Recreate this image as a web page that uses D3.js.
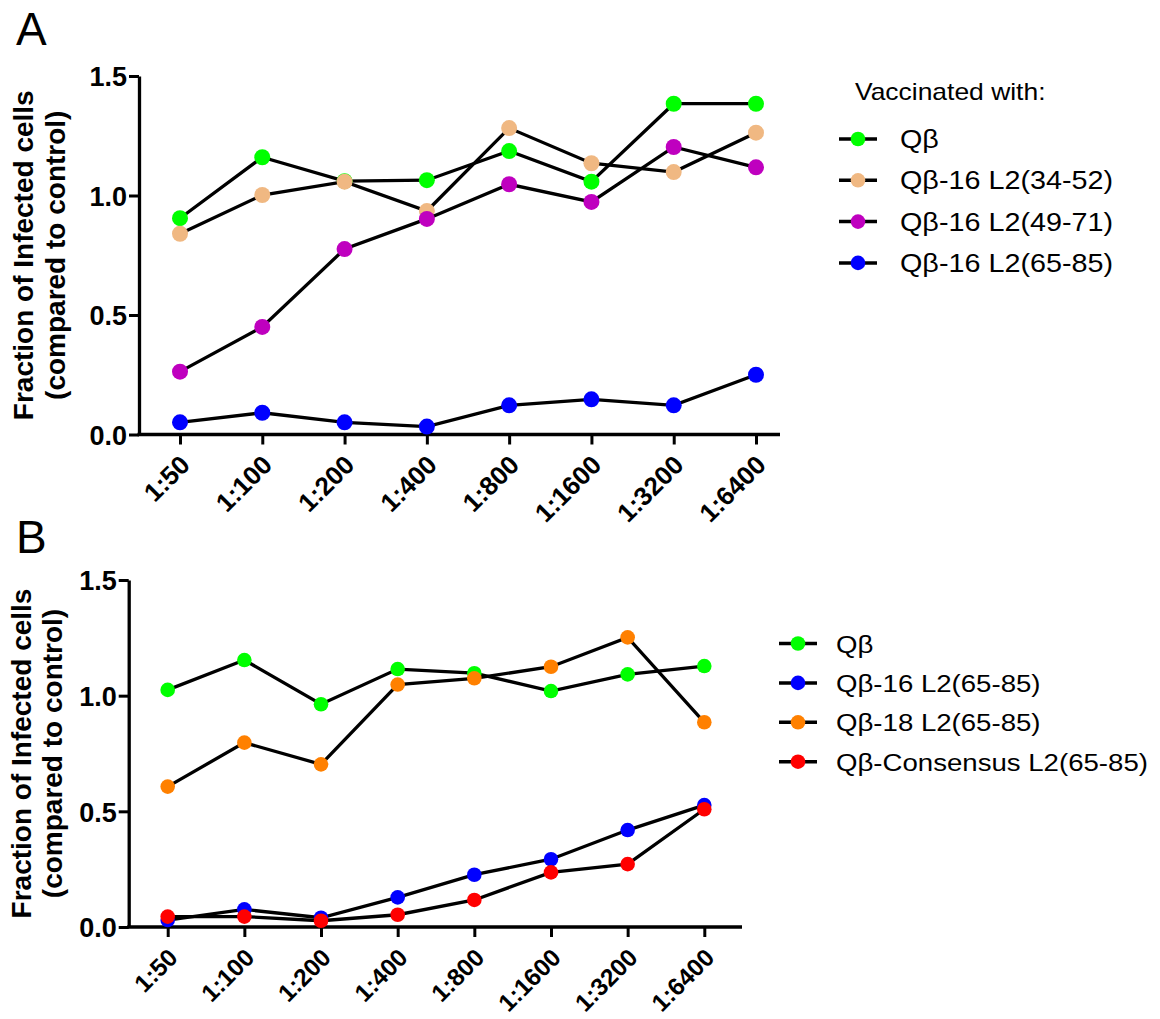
<!DOCTYPE html>
<html>
<head>
<meta charset="utf-8">
<script src="https://cdn.jsdelivr.net/npm/d3@7"></script>
<style>
	body { margin: 0; background: #fff; }
	svg text { font-family: "Liberation Sans", Arial, sans-serif; fill: #000; }
</style>
</head>
<body>
<svg id="chart" width="1160" height="1019"></svg>
<script>
// dilutions on the x axis, shared by both panels
var dilutions = ['1:50', '1:100', '1:200', '1:400', '1:800', '1:1600', '1:3200', '1:6400'];
var yTicks = [0, 0.5, 1.0, 1.5];
var yTitle = ['Fraction of Infected cells', '(compared to control)'];

// panel A
var namesA = ['Q\u03b2', 'Q\u03b2-16 L2(34-52)', 'Q\u03b2-16 L2(49-71)', 'Q\u03b2-16 L2(65-85)'];
var colorsA = ['#00ff00', '#f0b882', '#bf00bf', '#0000ff'];
var qbA      = [0.905, 1.160, 1.060, 1.064, 1.186, 1.058, 1.384, 1.384];
var l2_34_52 = [0.840, 1.002, 1.058, 0.935, 1.282, 1.135, 1.098, 1.263];
var l2_49_71 = [0.263, 0.450, 0.776, 0.902, 1.047, 0.973, 1.203, 1.118];
var l2_65_85A = [0.051, 0.091, 0.051, 0.033, 0.122, 0.147, 0.122, 0.250];

// panel B
var namesB = ['Q\u03b2', 'Q\u03b2-16 L2(65-85)', 'Q\u03b2-18 L2(65-85)', 'Q\u03b2-Consensus L2(65-85)'];
var colorsB = ['#00ff00', '#0000ff', '#ff8000', '#ff0000'];
var qbB        = [1.025, 1.154, 0.963, 1.115, 1.097, 1.020, 1.092, 1.128];
var l2_16_B    = [0.030, 0.076, 0.040, 0.128, 0.226, 0.293, 0.419, 0.527];
var l2_18_B    = [0.607, 0.797, 0.703, 1.048, 1.075, 1.125, 1.252, 0.885];
var consensusB = [0.045, 0.045, 0.027, 0.053, 0.117, 0.236, 0.272, 0.509];

(function() {
	"use strict";

	var LEGEND_STRETCH = 1.15;

	var panels = [
		{
			letter: 'A', letterX: 16, letterY: 45,
			axisLeft: 139, axisRight: 780, yBottom: 434.5, yTop: 76,
			firstX: 180, lastX: 756, radius: 8,
			titleX: 33, titleGap: 32, tickFont: 26,
			names: namesA, colors: colorsA,
			series: [qbA, l2_34_52, l2_49_71, l2_65_85A],
			legendTitle: 'Vaccinated with:', legendTitleY: 100, legendFont: 25,
			legendX: 858, legendY: 139, legendStep: 41.3, legendTextX: 900
		},
		{
			letter: 'B', letterX: 16, letterY: 553,
			axisLeft: 128.7, axisRight: 742, yBottom: 927, yTop: 580,
			firstX: 167.7, lastX: 704.3, radius: 7.3,
			titleX: 31, titleGap: 31, tickFont: 24.5,
			names: namesB, colors: colorsB,
			series: [qbB, l2_16_B, l2_18_B, consensusB],
			legendTitle: null, legendFont: 24,
			legendX: 798, legendY: 643.5, legendStep: 39.4, legendTextX: 836
		}
	];

	var svg = d3.select('#chart');
	panels.forEach(function (panel) {
		renderPanel(svg, panel);
	});

	function renderPanel(svg, panel) {
		var g = svg.append('g');

		var x = d3.scalePoint()
			.domain(dilutions)
			.range([panel.firstX, panel.lastX]);

		var y = d3.scaleLinear()
			.domain([0, 1.5])
			.range([panel.yBottom, panel.yTop]);

		g.append('text')
			.attr('x', panel.letterX)
			.attr('y', panel.letterY)
			.style('font-size', '46px')
			.text(panel.letter);

		// y axis
		var yAxis = g.append('g')
			.attr('transform', 'translate(' + panel.axisLeft + ',0)')
			.call(d3.axisLeft(y)
				.tickValues(yTicks)
				.tickFormat(d3.format('.1f'))
				.tickSize(10)
				.tickSizeOuter(0));
		styleAxis(yAxis);
		yAxis.selectAll('.tick text')
			.attr('x', -12)
			.attr('dy', '0.36em')
			.style('font-size', '27px')
			.style('font-weight', 'bold');

		// x axis
		var xAxis = g.append('g')
			.attr('transform', 'translate(0,' + panel.yBottom + ')')
			.call(d3.axisBottom(x).tickSize(10).tickSizeOuter(0));
		styleAxis(xAxis);
		xAxis.select('.domain')
			.attr('d', 'M' + (panel.axisLeft - 1.5) + ',0H' + panel.axisRight);
		xAxis.selectAll('.tick text')
			.attr('y', null)
			.attr('dy', null)
			.attr('text-anchor', 'end')
			.attr('transform', 'translate(11,32) rotate(-45)')
			.style('font-size', panel.tickFont + 'px')
			.style('font-weight', 'bold');

		// y axis title
		var midY = (panel.yBottom + panel.yTop) / 2;
		var title = g.append('text')
			.attr('transform', 'translate(' + panel.titleX + ',' + midY + ') rotate(-90)')
			.attr('text-anchor', 'middle')
			.style('font-size', '28px')
			.style('font-weight', 'bold');
		title.selectAll('tspan')
			.data(yTitle)
			.enter()
			.append('tspan')
			.attr('x', 0)
			.attr('dy', function (d, i) { return i === 0 ? 0 : panel.titleGap; })
			.text(function (d) { return d; });

		// series
		var line = d3.line()
			.x(function (d, i) { return x(dilutions[i]); })
			.y(function (d) { return y(d); });

		panel.series.forEach(function (values, s) {
			var sg = g.append('g');
			sg.append('path')
				.datum(values)
				.attr('d', line)
				.attr('fill', 'none')
				.attr('stroke', '#000')
				.attr('stroke-width', 3.3);
			sg.selectAll('circle')
				.data(values)
				.enter()
				.append('circle')
				.attr('cx', function (d, i) { return x(dilutions[i]); })
				.attr('cy', function (d) { return y(d); })
				.attr('r', panel.radius)
				.attr('fill', panel.colors[s]);
		});

		renderLegend(g, panel);
	}

	function styleAxis(axis) {
		axis.selectAll('.domain')
			.attr('stroke', '#000')
			.attr('stroke-width', 3.3);
		axis.selectAll('.tick line')
			.attr('stroke', '#000')
			.attr('stroke-width', 3);
	}

	function renderLegend(g, panel) {
		var legend = g.append('g');

		if (panel.legendTitle) {
			legend.append('text')
				.attr('transform', 'translate(' + (panel.legendX - 3) + ',' + panel.legendTitleY + ') scale(' + LEGEND_STRETCH + ',1)')
				.style('font-size', '23px')
				.text(panel.legendTitle);
		}

		var rows = legend.selectAll('g.row')
			.data(panel.names)
			.enter()
			.append('g')
			.classed('row', true)
			.attr('transform', function (d, i) {
				return 'translate(0,' + (panel.legendY + i * panel.legendStep) + ')';
			});

		rows.append('line')
			.attr('x1', panel.legendX - 19)
			.attr('x2', panel.legendX + 19)
			.attr('stroke', '#000')
			.attr('stroke-width', 3.5);

		rows.append('circle')
			.attr('cx', panel.legendX)
			.attr('r', 7.3)
			.attr('fill', function (d, i) { return panel.colors[i]; });

		rows.append('text')
			.attr('transform', 'translate(' + panel.legendTextX + ',9) scale(' + LEGEND_STRETCH + ',1)')
			.style('font-size', panel.legendFont + 'px')
			.text(function (d) { return d; });
	}
}());
</script>
</body>
</html>
